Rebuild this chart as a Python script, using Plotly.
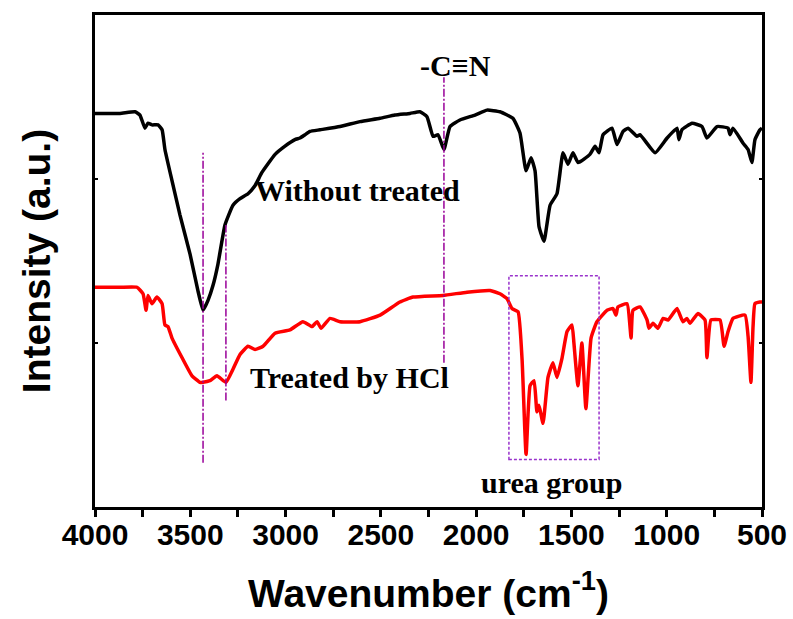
import plotly.graph_objects as go

# Untreated sample (black)
wn_untreated = [4000, 3869, 3790, 3764, 3738, 3722, 3701, 3669, 3648, 3633, 3596, 3554, 3501, 3460,
                3433, 3407, 3381, 3355, 3318, 3276, 3239, 3197, 3160, 3124, 3055, 3003, 2951, 2924,
                2898, 2872, 2819, 2714, 2609, 2504, 2426, 2347, 2295, 2258, 2226, 2200, 2169, 2137,
                2085, 2006, 1943, 1875, 1807, 1770, 1738, 1712, 1691, 1670, 1644, 1612, 1576, 1544,
                1518, 1492, 1465, 1403, 1376, 1355, 1334, 1287, 1261, 1229, 1203, 1156, 1140, 1061,
                998, 946, 936, 920, 867, 815, 789, 736, 678, 668, 652, 600, 573, 553, 537, 511, 500]
int_untreated = [2.40, 2.40, 2.41, 2.39, 2.31, 2.34, 2.33, 2.33, 2.30, 2.18, 1.99, 1.78, 1.54, 1.32,
                 1.20, 1.26, 1.35, 1.48, 1.72, 1.84, 1.88, 1.91, 1.96, 2.04, 2.15, 2.20, 2.24, 2.25,
                 2.27, 2.29, 2.30, 2.32, 2.35, 2.37, 2.39, 2.40, 2.41, 2.38, 2.26, 2.27, 2.18, 2.32,
                 2.36, 2.39, 2.42, 2.41, 2.37, 2.28, 2.05, 2.13, 2.05, 1.71, 1.62, 1.84, 1.91, 2.16,
                 2.09, 2.16, 2.10, 2.15, 2.20, 2.16, 2.27, 2.31, 2.21, 2.29, 2.31, 2.26, 2.27, 2.16,
                 2.25, 2.31, 2.24, 2.30, 2.34, 2.32, 2.25, 2.32, 2.31, 2.27, 2.31, 2.22, 2.18, 2.10,
                 2.24, 2.30, 2.31]

# HCl treated sample (red)
wn_treated = [4000, 3869, 3780, 3748, 3732, 3722, 3701, 3675, 3648, 3633, 3617, 3596, 3543, 3491,
              3449, 3433, 3397, 3360, 3313, 3276, 3239, 3197, 3160, 3118, 3055, 2977, 2909, 2861,
              2835, 2814, 2767, 2714, 2609, 2504, 2400, 2331, 2174, 2048, 1927, 1875, 1838, 1812,
              1780, 1759, 1738, 1717, 1696, 1681, 1670, 1649, 1623, 1597, 1576, 1549, 1523, 1497,
              1487, 1466, 1445, 1424, 1397, 1366, 1313, 1282, 1266, 1256, 1208, 1187, 1177, 1140,
              1103, 1093, 1072, 1046, 1019, 993, 946, 915, 894, 878, 836, 799, 789, 768, 720,
              699, 678, 652, 589, 573, 558, 547, 537, 511, 500]
int_treated = [1.34, 1.34, 1.34, 1.30, 1.20, 1.29, 1.24, 1.28, 1.24, 1.11, 1.10, 1.03, 0.91, 0.80,
               0.76, 0.76, 0.77, 0.80, 0.76, 0.84, 0.93, 0.98, 0.96, 0.98, 1.06, 1.08, 1.13, 1.10,
               1.13, 1.09, 1.15, 1.13, 1.13, 1.17, 1.25, 1.28, 1.29, 1.31, 1.32, 1.30, 1.27, 1.21,
               1.19, 0.90, 0.32, 0.74, 0.77, 0.58, 0.62, 0.51, 0.79, 0.88, 0.79, 0.91, 1.07, 1.11,
               1.00, 0.74, 1.00, 0.60, 1.03, 1.13, 1.20, 1.21, 1.17, 1.22, 1.24, 1.03, 1.20, 1.22,
               1.14, 1.09, 1.12, 1.09, 1.15, 1.14, 1.21, 1.13, 1.15, 1.12, 1.18, 1.14, 0.91, 1.14, 1.14,
               0.98, 1.07, 1.15, 1.17, 1.04, 0.76, 1.10, 1.24, 1.25, 1.25]

x_tick_vals = [4000, 3500, 3000, 2500, 2000, 1500, 1000, 500]
x_tick_text = ["4000", "3500", "3000", "2500", "2000", "1500", "1000", "500"]

# Guide lines: (wavenumber, y start, y end)
guide_lines = [(3433, 0.27, 2.16), (3313, 0.65, 1.72), (2169, 0.88, 2.62)]
urea_box = (1828, 1355, 0.29, 1.41)

labels = [
    ("-C\u2261N", 2110, 2.69, "center"),
    ("Without treated", 3171, 1.93, "left"),
    ("Treated by HCl", 3197, 0.79, "left"),
    ("urea group", 1607, 0.15, "center"),
]

fig = go.Figure()
fig.add_trace(go.Scatter(x=wn_untreated, y=int_untreated, mode="lines",
                         line=dict(color="black", width=3.5, shape="spline", smoothing=0.4),
                         showlegend=False))
fig.add_trace(go.Scatter(x=wn_treated, y=int_treated, mode="lines",
                         line=dict(color="#ff0000", width=3.5, shape="spline", smoothing=0.4),
                         showlegend=False))

for xv, y0, y1 in guide_lines:
    fig.add_shape(type="line", x0=xv, x1=xv, y0=y0, y1=y1, xref="x", yref="y",
                  line=dict(color="#990099", width=1.5, dash="8px,2px,2px,2px"))

bx0, bx1, by0, by1 = urea_box
fig.add_shape(type="rect", x0=bx0, x1=bx1, y0=by0, y1=by1, xref="x", yref="y",
              line=dict(color="#9933cc", width=1.5, dash="3px,2px"))

for txt, xv, yv, anchor in labels:
    fig.add_annotation(x=xv, y=yv, text=txt, showarrow=False, xanchor=anchor, yanchor="middle",
                       font=dict(family="Liberation Serif", size=30, color="black", weight="bold"))

fig.update_layout(
    width=793, height=619,
    margin=dict(l=95, r=31, t=15, b=112),
    paper_bgcolor="white", plot_bgcolor="white",
    xaxis=dict(
        range=[4000, 500], autorange=False, automargin=False,
        tickvals=x_tick_vals, ticktext=x_tick_text,
        ticks="outside", ticklen=7, tickwidth=2.5, tickcolor="black",
        minor=dict(dtick=250, tick0=0, ticks="outside", ticklen=7, tickwidth=2.5, tickcolor="black"),
        showline=True, linewidth=3, linecolor="black", mirror=True,
        showgrid=False, zeroline=False,
        ticklabelstandoff=-8,
        tickfont=dict(family="Liberation Sans", size=30, color="black", weight="bold"),
        title=dict(text="Wavenumber (cm<sup>-1</sup>)", standoff=30,
                   font=dict(family="Liberation Sans", size=39, color="black", weight="bold")),
    ),
    yaxis=dict(
        range=[0, 3], autorange=False, automargin=False,
        tickvals=[1, 2],
        ticks="inside", ticklen=3, tickwidth=2, tickcolor="black",
        showline=True, linewidth=3, linecolor="black", mirror="ticks",
        showgrid=False, zeroline=False, showticklabels=False,
        title=dict(text="Intensity (a.u.)", standoff=30,
                   font=dict(family="Liberation Sans", size=39, color="black", weight="bold")),
    ),
)

fig.write_html("out.html")
